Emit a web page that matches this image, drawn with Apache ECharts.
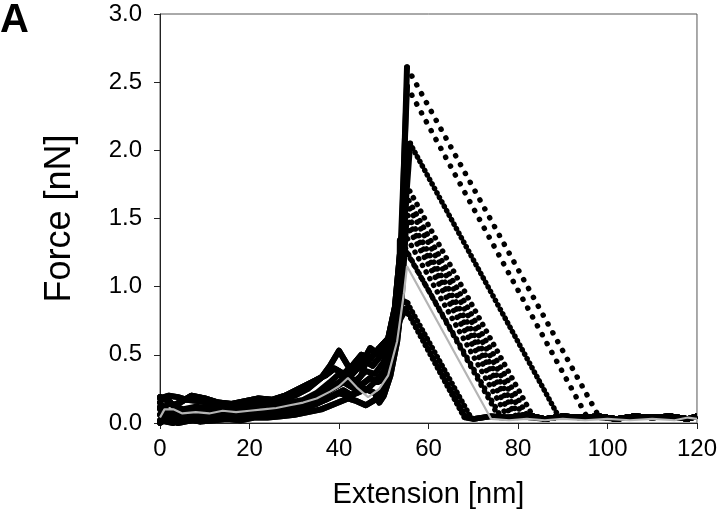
<!DOCTYPE html>
<html>
<head>
<meta charset="utf-8">
<script src="https://cdn.jsdelivr.net/npm/echarts@6/dist/echarts.min.js"></script>
<style>
html,body{margin:0;padding:0;background:#fff;}
#chart{width:720px;height:524px;}
</style>
</head>
<body>
<div id="chart"></div>
<script>
// ---- data ----
var xTicks = [0, 20, 40, 60, 80, 100, 120];
var yTicks = [0.0, 0.5, 1.0, 1.5, 2.0, 2.5, 3.0];

// approach (pre-rupture) shapes, [extension nm, force nN]
var shapeA = [[0,0.18],[2,0.2],[4,0.19],[6,0.17],[9,0.16],[12,0.14],[15,0.12],[18,0.12],[21,0.14],[24,0.15],[27,0.17],[30,0.2],[33,0.25],[36,0.33],[38,0.42],[40,0.53],[42,0.42],[43,0.36],[45,0.43],[47,0.55],[49,0.5],[51,0.58],[52.5,0.75],[53.8,1.1]];
var shapeB = [[0,0.02],[3,0.0],[6,0.03],[9,0.01],[12,0.02],[15,0.03],[18,0.02],[21,0.04],[24,0.04],[27,0.05],[30,0.06],[33,0.08],[36,0.1],[39,0.14],[42,0.18],[44,0.16],[46,0.13],[48,0.17],[50,0.25],[52,0.45],[53.5,0.75]];
var shapeC = [[0,0.1],[2,0.14],[4,0.12],[6,0.08],[9,0.1],[12,0.09],[15,0.08],[18,0.09],[21,0.1],[23.5,0.17],[25,0.11],[28,0.12],[31,0.14],[34,0.18],[37,0.24],[40,0.3],[42,0.35],[44,0.3],[46,0.24],[48,0.3],[50,0.38],[52,0.6],[53.5,0.95]];
var shapeD = [[0,0.06],[3,0.05],[6,0.07],[9,0.06],[12,0.05],[15,0.07],[18,0.06],[21,0.08],[24,0.09],[27,0.1],[30,0.12],[33,0.15],[36,0.2],[39,0.26],[41,0.3],[43,0.26],[45,0.35],[46,0.45],[47.5,0.42],[49,0.48],[51,0.55],[52.5,0.8],[54,1.2]];
var shapeE = [[0,0.15],[2,0.05],[4,0.0],[7,0.02],[10,0.04],[13,0.03],[16,0.06],[19,0.05],[22,0.07],[25,0.08],[28,0.1],[31,0.1],[34,0.13],[37,0.17],[40,0.22],[42,0.2],[44,0.22],[46,0.25],[48,0.22],[49,0.15],[50,0.2],[51.5,0.35],[53,0.6],[54,0.9]];
var shapeF = [[0,0.19],[2,0.16],[3,0.13],[5,0.16],[7,0.2],[10,0.18],[13,0.15],[16,0.14],[19,0.16],[22,0.18],[25,0.17],[28,0.2],[31,0.25],[34,0.3],[37,0.35],[39,0.4],[41,0.36],[43,0.42],[45,0.5],[47,0.47],[49,0.55],[51,0.62],[52.5,0.85],[53.8,1.3]];
var shapeG = [[0,0.12],[2,0.08],[5,0.1],[8,0.12],[11,0.11],[14,0.1],[17,0.11],[20,0.12],[23,0.13],[26,0.14],[29,0.15],[32,0.17],[35,0.22],[38,0.3],[40,0.36],[42,0.3],[44,0.32],[46,0.38],[48,0.36],[50,0.45],[52,0.7],[54,1.1]];
var shapeH = [[0,0.0],[2,0.04],[5,0.06],[8,0.04],[11,0.06],[14,0.05],[17,0.07],[20,0.06],[23,0.08],[26,0.07],[29,0.09],[32,0.11],[35,0.14],[38,0.19],[41,0.24],[43,0.2],[45,0.28],[47,0.33],[48.5,0.3],[50,0.32],[52,0.5],[53.5,0.85]];
var shapes = [shapeA, shapeB, shapeC, shapeD, shapeE, shapeF, shapeG, shapeH];

// individual curves
var curveShape   = [0,    5,    3,    2,    0,    5,    1,    3,    4,    6,    7,    5,    4,    1,    7];
var peakExt      = [55.2, 55.2, 55.9, 55.0, 54.8, 55.0, 54.6, 54.8, 55.0, 54.5, 53.6, 54.8, 55.3, 55.0, 55.5];
var peakForce    = [2.61, 2.47, 2.05, 1.75, 1.68, 1.62, 1.57, 1.52, 1.46, 1.40, 1.34, 1.28, 0.88, 0.84, 0.80];
var releaseExt   = [98.2, 95.5, 89.2, 83.5, 82.3, 81.3, 80.5, 79.7, 78.7, 77.7, 76.3, 75.8, 69.5, 68.5, 68.0];
var releaseForce = 0.04;
var dotGap       = [10,   10,   5,    7.5,  7.5,  7.5,  7.5,  7.5,  7.5,  7.5,  7,    7,    5,    5,    5];

// baseline after rupture
var tailPts = [[66,0.05],[70,0.03],[74,0.05],[78,0.04],[82,0.06],[86,0.03],[90,0.05],[94,0.04],[98,0.05],[102,0.03],[106,0.05],[110,0.04],[114,0.05],[118,0.03],[120,0.05]];

// average curve (grey)
var avgCurve = [[0,0.04],[1,0.1],[3,0.1],[5,0.07],[8,0.08],[11,0.07],[14,0.09],[17,0.08],[20,0.09],[23,0.1],[26,0.11],[29,0.13],[32,0.15],[35,0.18],[38,0.23],[40,0.27],[42,0.33],[44,0.26],[46.5,0.19],[49,0.25],[51,0.35],[53,0.6],[54.5,0.95],[55.2,1.15],[74,0.03],[78,0.02],[82,0.03],[86,0.02],[90,0.03],[95,0.02],[100,0.03],[105,0.02],[110,0.03],[115,0.02],[118,0.04],[120,0.03]];

// ---- build series ----
var series = [];
var black = '#000';
for (var i = 0; i < peakForce.length; i++) {
  var pk = [peakExt[i], peakForce[i]];
  var rel = [releaseExt[i], releaseForce];
  series.push({
    type: 'line', data: shapes[curveShape[i]].concat([pk]),
    symbol: 'none', lineStyle: {color: black, width: 6, join: 'round', cap: 'round'}, z: 2
  });
  series.push({
    type: 'line', data: [pk, rel],
    symbol: 'none', lineStyle: {color: black, width: 5.5, type: [0.1, dotGap[i]], cap: 'round'}, z: 2
  });
  series.push({
    type: 'line', data: [rel].concat(tailPts.filter(function (p) { return p[0] > releaseExt[i]; })),
    symbol: 'none', lineStyle: {color: black, width: 5.5, join: 'round'}, z: 2
  });
}
series.push({
  type: 'line', data: avgCurve, symbol: 'none',
  lineStyle: {color: '#b4b4b4', width: 2.2}, z: 5
});

var FONT = '"Liberation Sans", Arial, sans-serif';
var chart = echarts.init(document.getElementById('chart'), null, {renderer: 'canvas'});
chart.setOption({
  animation: false,
  backgroundColor: '#fff',
  graphic: [{
    type: 'text', left: 0, top: 1,
    style: {text: 'A', font: 'bold 40px ' + FONT, fill: '#000'}
  }],
  grid: {left: 160, right: 23, top: 14, bottom: 101, show: true, borderColor: '#555', borderWidth: 1},
  xAxis: {
    type: 'value', min: xTicks[0], max: xTicks[xTicks.length - 1], interval: 20,
    name: 'Extension [nm]', nameLocation: 'middle', nameGap: 57,
    nameTextStyle: {fontSize: 29, color: '#000', fontFamily: FONT},
    axisLine: {show: true, onZero: false, lineStyle: {color: '#222', width: 1}},
    axisTick: {show: true, inside: false, length: 6, lineStyle: {color: '#222'}},
    axisLabel: {fontSize: 24, color: '#000', margin: 14, fontFamily: FONT},
    splitLine: {show: false}
  },
  yAxis: {
    type: 'value', min: yTicks[0], max: yTicks[yTicks.length - 1], interval: 0.5,
    name: 'Force [nN]', nameLocation: 'middle', nameGap: 82,
    nameTextStyle: {fontSize: 36, color: '#000', fontFamily: FONT},
    axisLine: {show: true, lineStyle: {color: '#222', width: 1}},
    axisTick: {show: true, inside: false, length: 6, lineStyle: {color: '#222'}},
    axisLabel: {fontSize: 24, color: '#000', margin: 18, fontFamily: FONT,
      formatter: function (v) { return v.toFixed(1); }},
    splitLine: {show: false}
  },
  series: series
});
</script>
</body>
</html>
